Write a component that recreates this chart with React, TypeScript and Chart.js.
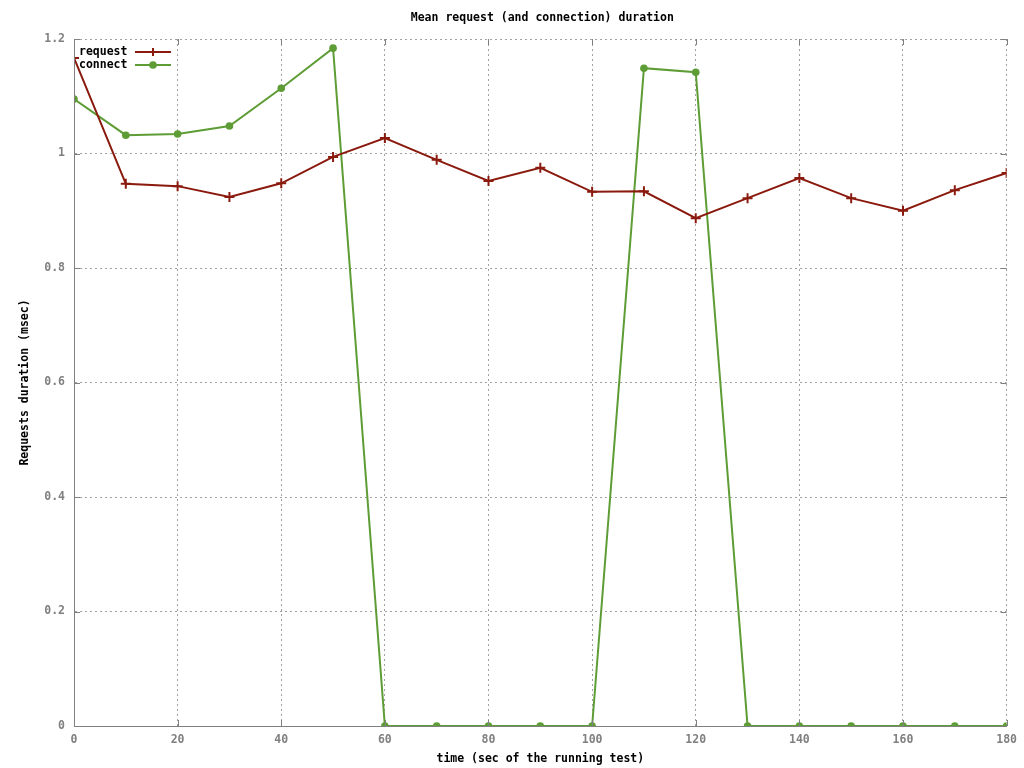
import React, { useEffect, useRef } from "react";
import { Chart, registerables } from "chart.js";

Chart.register(...registerables);

const timeSec = [0, 10, 20, 30, 40, 50, 60, 70, 80, 90, 100, 110, 120, 130, 140, 150, 160, 170, 180];
const requestMs = [1.167, 0.947, 0.943, 0.924, 0.948, 0.994, 1.027, 0.989, 0.952, 0.975, 0.933, 0.934, 0.887, 0.922, 0.957, 0.922, 0.9, 0.936, 0.966];
const connectMs = [1.095, 1.032, 1.034, 1.048, 1.114, 1.184, 0, 0, 0, 0, 0, 1.149, 1.142, 0, 0, 0, 0, 0, 0];
const seriesNames = ["request", "connect"];
const titleText = "Mean request (and connection) duration";
const xTitle = "time (sec of the running test)";
const yTitle = "Requests duration (msec)";

const RED = "#8b1a0e";
const GREEN = "#5e9c36";
const FONT = "'DejaVu Sans Mono', 'Liberation Mono', monospace";

const legendPlugin = {
  id: "gnuLegend",
  afterDatasetsDraw(chart: any) {
    const { ctx, chartArea } = chart;
    const items = [
      { label: seriesNames[0], color: RED, style: "cross" },
      { label: seriesNames[1], color: GREEN, style: "circle" },
    ];
    ctx.save();
    ctx.font = `bold 11.5px ${FONT}`;
    ctx.textBaseline = "middle";
    ctx.textAlign = "left";
    items.forEach((it, i) => {
      const y = chartArea.top + 13 + i * 13;
      const x0 = chartArea.left + 5;
      ctx.fillStyle = "#000";
      ctx.fillText(it.label, x0, y);
      ctx.strokeStyle = it.color;
      ctx.lineWidth = 2;
      ctx.beginPath();
      ctx.moveTo(chartArea.left + 61, y);
      ctx.lineTo(chartArea.left + 97, y);
      ctx.stroke();
      const cx = chartArea.left + 79;
      if (it.style === "cross") {
        ctx.beginPath();
        ctx.moveTo(cx - 4, y);
        ctx.lineTo(cx + 4, y);
        ctx.moveTo(cx, y - 4);
        ctx.lineTo(cx, y + 4);
        ctx.stroke();
      } else {
        ctx.fillStyle = it.color;
        ctx.beginPath();
        ctx.arc(cx, y, 3.8, 0, Math.PI * 2);
        ctx.fill();
      }
    });
    ctx.restore();
  },
};

const titlePlugin = {
  id: "gnuTitle",
  afterDraw(chart: any) {
    const { ctx, chartArea } = chart;
    ctx.save();
    ctx.font = `bold 11.5px ${FONT}`;
    ctx.fillStyle = "#000";
    ctx.textAlign = "center";
    ctx.textBaseline = "middle";
    ctx.fillText(titleText, (chartArea.left + chartArea.right) / 2 + 2, 18);
    ctx.restore();
  },
};

const tickMarkPlugin = {
  id: "tickMarks",
  afterDraw(chart: any) {
    const { ctx, chartArea, scales } = chart;
    ctx.save();
    ctx.strokeStyle = "#808080";
    ctx.lineWidth = 1;
    ctx.beginPath();
    scales.x.ticks.forEach((t: any) => {
      const px = Math.round(scales.x.getPixelForValue(t.value)) + 0.5;
      ctx.moveTo(px, chartArea.bottom);
      ctx.lineTo(px, chartArea.bottom - 6);
      ctx.moveTo(px, chartArea.top);
      ctx.lineTo(px, chartArea.top + 6);
    });
    scales.y.ticks.forEach((t: any) => {
      const py = Math.round(scales.y.getPixelForValue(t.value)) + 0.5;
      ctx.moveTo(chartArea.left, py);
      ctx.lineTo(chartArea.left + 6, py);
      ctx.moveTo(chartArea.right, py);
      ctx.lineTo(chartArea.right - 6, py);
    });
    ctx.stroke();
    ctx.beginPath();
    ctx.moveTo(chartArea.left + 0.5, chartArea.top);
    ctx.lineTo(chartArea.left + 0.5, chartArea.bottom + 0.5);
    ctx.lineTo(chartArea.right, chartArea.bottom + 0.5);
    ctx.stroke();
    ctx.restore();
  },
};

export default function App() {
  const ref = useRef<HTMLCanvasElement | null>(null);
  useEffect(() => {
    if (!ref.current) return;
    const chart = new Chart(ref.current, {
      type: "line",
      data: {
        datasets: [
          {
            label: seriesNames[0],
            data: timeSec.map((t, i) => ({ x: t, y: requestMs[i] })),
            borderColor: RED,
            backgroundColor: RED,
            borderWidth: 2,
            pointStyle: "cross",
            pointRadius: 5,
            pointBorderWidth: 2,
            pointBorderColor: RED,
            tension: 0,
          },
          {
            label: seriesNames[1],
            data: timeSec.map((t, i) => ({ x: t, y: connectMs[i] })),
            borderColor: GREEN,
            backgroundColor: GREEN,
            borderWidth: 2,
            pointStyle: "circle",
            pointRadius: 3.8,
            pointBorderWidth: 0,
            tension: 0,
          },
        ],
      },
      options: {
        animation: false,
        responsive: false,
        layout: { padding: { top: 39, right: 17, left: 0, bottom: 0 } },
        plugins: {
          legend: { display: false },
          tooltip: { enabled: false },
          title: { display: false },
        },
        scales: {
          x: {
            type: "linear",
            min: 0,
            max: 180,
            afterFit: (s: any) => {
              s.height = 42;
            },
            ticks: {
              stepSize: 20,
              color: "#808080",
              padding: 7,
              font: { family: FONT, size: 11.5, weight: "bold" },
            },
            grid: {
              color: "#a0a0a0",
              tickLength: 0,
              drawTicks: false,
            },
            border: { display: true, color: "#808080", width: 1, dash: [2, 3] },
            title: {
              display: true,
              text: xTitle,
              color: "#000",
              font: { family: FONT, size: 11.5, weight: "bold", lineHeight: 1.2 },
              padding: { top: 0, bottom: 2.4 },
            },
          },
          y: {
            type: "linear",
            min: 0,
            max: 1.2,
            afterFit: (s: any) => {
              s.width = 74;
            },
            ticks: {
              stepSize: 0.2,
              color: "#808080",
              padding: 9,
              font: { family: FONT, size: 11.5, weight: "bold" },
              callback: (v: any) => {
                const n = Math.round(Number(v) * 10) / 10;
                return n === 0 ? "0" : n === 1 ? "1" : n.toFixed(1);
              },
            },
            grid: {
              color: "#a0a0a0",
              tickLength: 0,
              drawTicks: false,
            },
            border: { display: true, color: "#808080", width: 1, dash: [2, 3] },
            title: {
              display: true,
              text: yTitle,
              color: "#000",
              font: { family: FONT, size: 11.5, weight: "bold", lineHeight: 1.2 },
              padding: { top: 18.4, bottom: 0 },
            },
          },
        },
      },
      plugins: [legendPlugin, tickMarkPlugin, titlePlugin],
    } as any);
    return () => chart.destroy();
  }, []);
  return (
    <div style={{ position: "absolute", left: 0, top: 0, width: 1024, height: 768, background: "#fff" }}>
      <canvas ref={ref} width={1024} height={768} style={{ display: "block", width: 1024, height: 768 }} />
    </div>
  );
}
